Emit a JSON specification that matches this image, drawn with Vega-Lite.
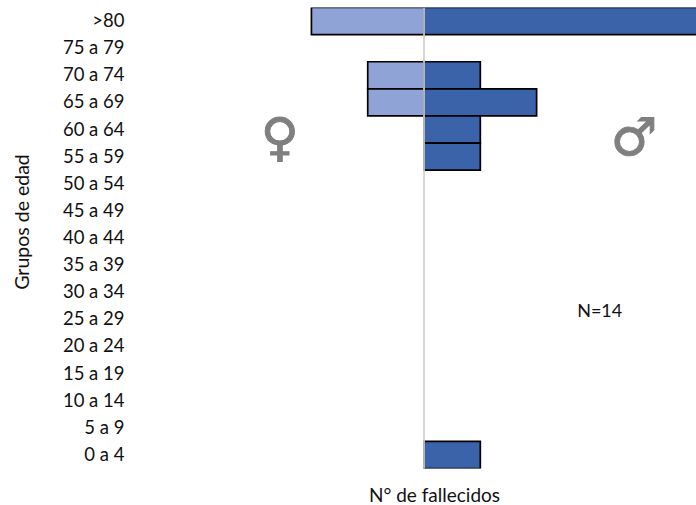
{
"$schema":"https://vega.github.io/schema/vega-lite/v6.json",
"autosize":{"type":"none"},
"padding":{"left":145,"top":7.5,"right":0,"bottom":36.5},
"width":551,"height":461,
"background":"white",
"config":{"view":{"stroke":null},"font":"Lato"},
"datasets":{"bars":[
{"edad":">80","sexo":"Mujer","n":-2},
{"edad":"70 a 74","sexo":"Mujer","n":-1},
{"edad":"65 a 69","sexo":"Mujer","n":-1},
{"edad":">80","sexo":"Hombre","n":5},
{"edad":"70 a 74","sexo":"Hombre","n":1},
{"edad":"65 a 69","sexo":"Hombre","n":2},
{"edad":"60 a 64\u00a0","sexo":"Hombre","n":1},
{"edad":"55 a 59","sexo":"Hombre","n":1},
{"edad":"0 a 4","sexo":"Hombre","n":1}
],
"notes":[
{"edad":"60 a 64\u00a0","v":-2.56,"t":"♀"},
{"edad":"60 a 64\u00a0","v":3.73,"t":"♂"}
]},
"layer":[
{"data":{"name":"bars"},
"mark":{"type":"bar","stroke":"black","strokeWidth":1.7,"clip":true},
"encoding":{
"y":{"field":"edad","type":"nominal","sort":[">80","75 a 79","70 a 74","65 a 69","60 a 64\u00a0","55 a 59","50 a 54","45 a 49","40 a 44\u00a0","35 a 39","30 a 34","25 a 29","20 a 24","15 a 19","10 a 14","5 a 9","0 a 4"],
"scale":{"domain":[">80","75 a 79","70 a 74","65 a 69","60 a 64\u00a0","55 a 59","50 a 54","45 a 49","40 a 44\u00a0","35 a 39","30 a 34","25 a 29","20 a 24","15 a 19","10 a 14","5 a 9","0 a 4"],"paddingInner":0,"paddingOuter":0},
"axis":{"title":"Grupos de edad","titleFontWeight":"normal","titleFontSize":19.5,"titleColor":"#111","titleX":-113,"titleY":214,"labelFontSize":18.5,"labelColor":"#111","ticks":false,"domain":false,"labelPadding":21,"grid":false}},
"x":{"field":"n","type":"quantitative","scale":{"domain":[-4.956,4.831],"nice":false,"zero":false},
"axis":{"title":"N° de fallecidos","titleFontWeight":"normal","titleFontSize":19,"titleColor":"#111","titleX":289,"titleY":18,"labels":false,"ticks":false,"domain":false,"grid":false}},
"fill":{"field":"sexo","type":"nominal","scale":{"domain":["Mujer","Hombre"],"range":["#8fa3d6","#3a63aa"]},"legend":null}
}},
{"data":{"values":[{"n":0}]},
"mark":{"type":"rule","color":"#d0d0d0","strokeWidth":1.7},
"encoding":{"x":{"field":"n","type":"quantitative"}}},
{"data":{"name":"notes"},
"mark":{"type":"text","font":"DejaVu Sans","fontWeight":"bold","fontSize":52,"color":"#7f7f7f","stroke":"#7f7f7f","strokeWidth":1,"dy":9},
"encoding":{
"y":{"field":"edad","type":"nominal"},
"x":{"field":"v","type":"quantitative"},
"text":{"field":"t"}
}},
{"data":{"values":[{"edad":"25 a 29","v":3.12,"t":"N=14"}]},
"mark":{"type":"text","fontSize":18,"color":"#111","dy":-7},
"encoding":{
"y":{"field":"edad","type":"nominal"},
"x":{"field":"v","type":"quantitative"},
"text":{"field":"t"}
}}
]
}
